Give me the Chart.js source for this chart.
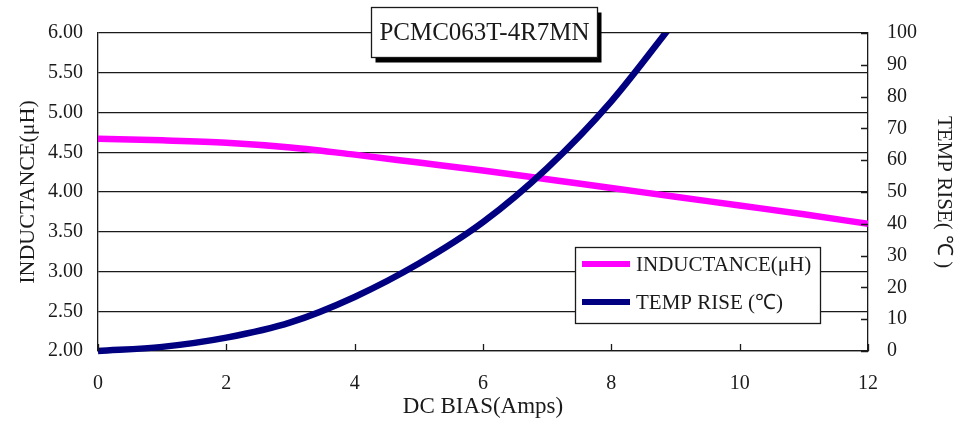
<!DOCTYPE html>
<html>
<head>
<meta charset="utf-8">
<script src="https://cdn.jsdelivr.net/npm/chart.js@4.4.1/dist/chart.umd.min.js"></script>
<style>
  html, body { margin: 0; padding: 0; background: #fff; }
  #wrap { width: 968px; height: 422px; }
</style>
</head>
<body>
<div id="wrap"><canvas id="chart" width="968" height="422"></canvas></div>
<script>
// ── Data ─────────────────────────────────────────────────────────────────────

const TITLE = 'PCMC063T-4R7MN';
const biasAmps = [0, 1, 2, 3, 4, 5, 6, 7, 8, 9, 10, 11, 12];
const inductance = [4.67, 4.65, 4.62, 4.56, 4.47, 4.37, 4.27, 4.16, 4.05, 3.94, 3.83, 3.72, 3.60];
const tempBias = [0, 1, 2, 3, 4, 5, 6, 7, 8, 9];
const tempRise = [0, 1.3, 4.2, 9.0, 17.0, 27.5, 40.5, 57.5, 78.5, 104];
const xTicks = [0, 2, 4, 6, 8, 10, 12];
const leftTicks = [2.0, 2.5, 3.0, 3.5, 4.0, 4.5, 5.0, 5.5, 6.0];
const rightTicks = [0, 10, 20, 30, 40, 50, 60, 70, 80, 90, 100];

const SERIF = '"Liberation Serif", "Times New Roman", serif';
const PINK = '#ff00ff';
const NAVY = '#000080';
const INK = '#1a1a1a';

// ── Plugins ──────────────────────────────────────────────────────────────────

// inward tick marks on the bottom and right axes
const innerTicks = {
  id: 'innerTicks',
  afterDatasetsDraw(chart) {
    const { ctx, chartArea: a, scales } = chart;
    ctx.save();
    ctx.strokeStyle = INK;
    ctx.lineWidth = 1.3;
    ctx.beginPath();
    xTicks.forEach(v => {
      const px = Math.round(scales.x.getPixelForValue(v)) + 0.5;
      ctx.moveTo(px, a.bottom);
      ctx.lineTo(px, a.bottom - 7);
    });
    rightTicks.forEach(v => {
      const py = Math.round(scales.y1.getPixelForValue(v)) + 0.5;
      ctx.moveTo(a.right, py);
      ctx.lineTo(a.right - 7, py);
    });
    ctx.stroke();
    ctx.restore();
  },
};

// boxed title with drop shadow and boxed legend
const boxes = {
  id: 'boxes',
  afterDraw(chart) {
    const { ctx } = chart;
    ctx.save();
    // title box
    const bx = 371.5, by = 7.5, bw = 226, bh = 50;
    ctx.fillStyle = '#000';
    ctx.fillRect(bx + 4, by + 5, bw, bh);
    ctx.fillStyle = '#fff';
    ctx.fillRect(bx, by, bw, bh);
    ctx.strokeStyle = INK;
    ctx.lineWidth = 1.3;
    ctx.strokeRect(bx, by, bw, bh);
    ctx.fillStyle = INK;
    ctx.font = '25px ' + SERIF;
    ctx.textAlign = 'center';
    ctx.textBaseline = 'middle';
    ctx.fillText(TITLE, bx + bw / 2, by + bh / 2 + 1, bw - 8);

    // legend box
    const lx = 575.5, ly = 247.5, lw = 245, lh = 76;
    ctx.fillStyle = '#fff';
    ctx.fillRect(lx, ly, lw, lh);
    ctx.strokeRect(lx, ly, lw, lh);
    const items = [
      { label: 'INDUCTANCE(\u03bcH)', color: PINK, y: 264 },
      { label: 'TEMP RISE (\u2103)', color: NAVY, y: 302 },
    ];
    ctx.font = '21px ' + SERIF;
    ctx.textAlign = 'left';
    items.forEach(it => {
      ctx.strokeStyle = it.color;
      ctx.lineWidth = 6;
      ctx.beginPath();
      ctx.moveTo(582, it.y);
      ctx.lineTo(630, it.y);
      ctx.stroke();
      ctx.fillStyle = INK;
      ctx.fillText(it.label, 636, it.y + 1);
    });
    ctx.restore();
  },
};

// ── Chart ────────────────────────────────────────────────────────────────────

const ctx = document.getElementById('chart').getContext('2d');
new Chart(ctx, {
  type: 'line',
  data: {
    datasets: [
      {
        label: 'TEMP RISE (\u2103)',
        data: tempBias.map((x, i) => ({ x, y: tempRise[i] })),
        yAxisID: 'y1',
        borderColor: NAVY,
        borderWidth: 6.5,
        pointRadius: 0,
        cubicInterpolationMode: 'monotone',
        clip: { left: 4, right: 0, top: 0, bottom: 4 },
        order: 0,
      },
      {
        label: 'INDUCTANCE(\u03bcH)',
        data: biasAmps.map((x, i) => ({ x, y: inductance[i] })),
        yAxisID: 'y',
        borderColor: PINK,
        borderWidth: 6.5,
        pointRadius: 0,
        cubicInterpolationMode: 'monotone',
        clip: { left: 0, right: 0, top: 0, bottom: 0 },
        order: 1,
      },
    ],
  },
  options: {
    responsive: false,
    animation: false,
    layout: { padding: { top: 33, left: 0, right: 0, bottom: 0 } },
    plugins: { legend: { display: false }, tooltip: { enabled: false } },
    scales: {
      x: {
        type: 'linear',
        min: 0, max: 12,
        afterFit: s => { s.height = 71; },
        afterBuildTicks: s => { s.ticks = xTicks.map(v => ({ value: v })); },
        grid: { display: false, drawTicks: false },
        border: { display: true, color: INK, width: 1.3 },
        ticks: { color: INK, padding: 21, font: { family: SERIF, size: 20 } },
        title: {
          display: true, text: 'DC BIAS(Amps)', color: INK,
          font: { family: SERIF, size: 23 }, padding: { top: 0, bottom: 1 },
        },
      },
      y: {
        position: 'left',
        min: 2, max: 6,
        afterFit: s => { s.width = 98; },
        afterBuildTicks: s => { s.ticks = leftTicks.map(v => ({ value: v })); },
        grid: { color: INK, lineWidth: 1.3, drawTicks: false },
        border: { display: true, color: INK, width: 1.3 },
        ticks: {
          color: INK, padding: 15, font: { family: SERIF, size: 20 },
          callback: v => v.toFixed(2),
        },
        title: {
          display: true, text: 'INDUCTANCE(\u03bcH)', color: INK,
          font: { family: SERIF, size: 22 }, padding: { top: 15, bottom: 0 },
        },
      },
      y1: {
        position: 'right',
        min: 0, max: 100,
        afterFit: s => { s.width = 100; },
        afterBuildTicks: s => { s.ticks = rightTicks.map(v => ({ value: v })); },
        grid: { display: false, drawTicks: false },
        border: { display: true, color: INK, width: 1.3 },
        ticks: { color: INK, padding: 19, font: { family: SERIF, size: 20 } },
        title: {
          display: true, text: 'TEMP RISE( \u2103 )', color: INK,
          font: { family: SERIF, size: 21 }, padding: { top: 12, bottom: 0 },
        },
      },
    },
  },
  plugins: [innerTicks, boxes],
});
</script>
</body>
</html>
